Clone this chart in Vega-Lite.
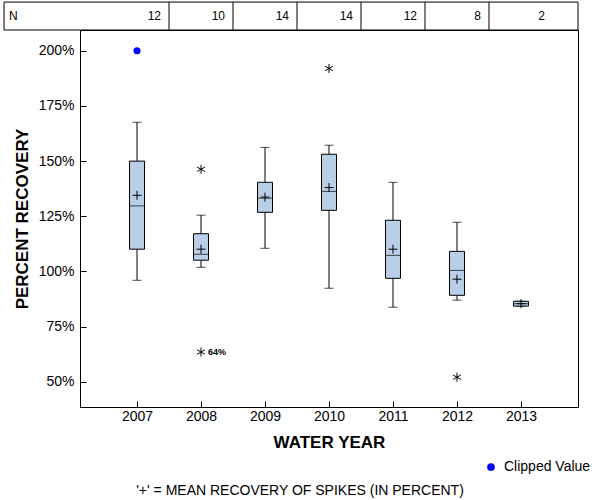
{
  "$schema": "https://vega.github.io/schema/vega-lite/v6.json",
  "width": 498,
  "height": 377,
  "autosize": {"type": "none"},
  "padding": {"left": 80, "top": 30, "right": 22, "bottom": 93},
  "background": "white",
  "config": {
    "font": "Liberation Sans",
    "view": {"stroke": "black", "strokeWidth": 1},
    "axis": {"grid": false, "domainColor": "black", "tickColor": "black", "labelColor": "black", "titleColor": "black", "labelFontSize": 14, "titleFontSize": 17, "titleFontWeight": "bold"}
  },
  "title": {"text": "'+' = MEAN RECOVERY OF SPIKES (IN PERCENT)", "orient": "bottom", "anchor": "middle", "fontSize": 14, "fontWeight": "normal", "color": "black", "dx": -29, "offset": 10},
  "datasets": {
    "stats": [
      {"year": 2007, "n": 12, "lo": 96.0, "q1": 110.1, "med": 129.7, "q3": 150.0, "hi": 167.6, "mean": 134.5},
      {"year": 2008, "n": 10, "lo": 101.9, "q1": 105.1, "med": 107.8, "q3": 117.1, "hi": 125.5, "mean": 110.1},
      {"year": 2009, "n": 14, "lo": 110.5, "q1": 126.8, "med": 133.2, "q3": 140.4, "hi": 156.2, "mean": 133.7},
      {"year": 2010, "n": 14, "lo": 92.4, "q1": 127.7, "med": 136.3, "q3": 153.1, "hi": 157.2, "mean": 138.0},
      {"year": 2011, "n": 12, "lo": 83.8, "q1": 96.9, "med": 107.3, "q3": 123.2, "hi": 140.4, "mean": 110.1},
      {"year": 2012, "n": 8, "lo": 87.0, "q1": 89.2, "med": 100.5, "q3": 109.1, "hi": 122.3, "mean": 96.5},
      {"year": 2013, "n": 2, "lo": 84.3, "q1": 84.3, "med": 85.4, "q3": 86.5, "hi": 86.5, "mean": 85.4}
    ],
    "outliers": [
      {"year": 2008, "value": 146.3, "label": ""},
      {"year": 2008, "value": 63.5, "label": "64%"},
      {"year": 2010, "value": 192.0, "label": ""},
      {"year": 2012, "value": 52.1, "label": ""}
    ],
    "clipped": [
      {"year": 2007, "value": 200, "type": "Clipped Value"}
    ],
    "nlabel": [{"label": "N"}]
  },
  "layer": [
    {
      "mark": {"type": "rule", "strokeDash": [5, 3], "color": "#808080", "strokeWidth": 1},
      "encoding": {
        "y": {"datum": 100, "type": "quantitative", "scale": {"domain": [38.6, 209.4], "nice": false, "zero": false, "padding": 0},
          "axis": {"values": [50, 75, 100, 125, 150, 175, 200], "labelExpr": "datum.value + '%'", "title": "PERCENT RECOVERY", "tickSize": -6, "labelPadding": 12, "titlePadding": 7}}
      }
    },
    {
      "data": {"name": "stats"},
      "mark": {"type": "rule", "color": "black", "strokeWidth": 1},
      "encoding": {
        "x": {"field": "year", "type": "quantitative", "scale": {"domain": [2006.109, 2013.891], "nice": false, "zero": false, "padding": 0},
          "axis": {"values": [2007, 2008, 2009, 2010, 2011, 2012, 2013], "format": "d", "title": "WATER YEAR", "tickSize": -6, "labelPadding": 8, "titlePadding": 11}},
        "y": {"field": "lo", "type": "quantitative"},
        "y2": {"field": "q1"}
      }
    },
    {
      "data": {"name": "stats"},
      "mark": {"type": "rule", "color": "black", "strokeWidth": 1},
      "encoding": {
        "x": {"field": "year", "type": "quantitative"},
        "y": {"field": "q3", "type": "quantitative"},
        "y2": {"field": "hi"}
      }
    },
    {
      "data": {"name": "stats"},
      "mark": {"type": "tick", "orient": "horizontal", "color": "black", "size": 9, "thickness": 1},
      "encoding": {
        "x": {"field": "year", "type": "quantitative"},
        "y": {"field": "lo", "type": "quantitative"}
      }
    },
    {
      "data": {"name": "stats"},
      "mark": {"type": "tick", "orient": "horizontal", "color": "black", "size": 9, "thickness": 1},
      "encoding": {
        "x": {"field": "year", "type": "quantitative"},
        "y": {"field": "hi", "type": "quantitative"}
      }
    },
    {
      "data": {"name": "stats"},
      "mark": {"type": "bar", "fill": "#B9CFE7", "stroke": "black", "strokeWidth": 1, "size": 15},
      "encoding": {
        "x": {"field": "year", "type": "quantitative"},
        "y": {"field": "q1", "type": "quantitative"},
        "y2": {"field": "q3"}
      }
    },
    {
      "data": {"name": "stats"},
      "mark": {"type": "tick", "orient": "horizontal", "color": "black", "size": 15, "thickness": 1},
      "encoding": {
        "x": {"field": "year", "type": "quantitative"},
        "y": {"field": "med", "type": "quantitative"}
      }
    },
    {
      "data": {"name": "stats"},
      "mark": {"type": "point", "shape": "M-1,0H1M0,-1V1", "size": 81, "stroke": "black", "strokeWidth": 1, "filled": false, "opacity": 1},
      "encoding": {
        "x": {"field": "year", "type": "quantitative"},
        "y": {"field": "mean", "type": "quantitative"}
      }
    },
    {
      "data": {"name": "outliers"},
      "mark": {"type": "point", "shape": "M0,-1V1M-0.87,-0.5L0.87,0.5M-0.87,0.5L0.87,-0.5", "size": 81, "stroke": "black", "strokeWidth": 1, "filled": false, "opacity": 1},
      "encoding": {
        "x": {"field": "year", "type": "quantitative"},
        "y": {"field": "value", "type": "quantitative"}
      }
    },
    {
      "data": {"name": "outliers"},
      "mark": {"type": "text", "align": "left", "baseline": "middle", "dx": 7, "fontSize": 9, "fontWeight": "bold", "color": "black"},
      "encoding": {
        "x": {"field": "year", "type": "quantitative"},
        "y": {"field": "value", "type": "quantitative"},
        "text": {"field": "label"}
      }
    },
    {
      "data": {"name": "clipped"},
      "mark": {"type": "point", "filled": true, "size": 50, "opacity": 1},
      "encoding": {
        "x": {"field": "year", "type": "quantitative"},
        "y": {"field": "value", "type": "quantitative"},
        "color": {"field": "type", "type": "nominal", "scale": {"range": ["#0000FF"]},
          "legend": {"orient": "none", "legendX": 404, "legendY": 430, "title": null, "labelFontSize": 14, "labelColor": "black", "labelOffset": 6, "symbolType": "circle", "symbolSize": 60, "padding": 0}}
      }
    },
    {
      "data": {"name": "nlabel"},
      "mark": {"type": "rect", "fill": null, "fillOpacity": 0, "stroke": "black", "strokeWidth": 1},
      "encoding": {
        "x": {"datum": 2004.922, "type": "quantitative"},
        "x2": {"datum": 2013.891},
        "y": {"datum": 209.4, "type": "quantitative"},
        "y2": {"datum": 222.06}
      }
    },
    {
      "data": {"name": "stats"},
      "transform": [{"filter": "datum.year < 2013"}],
      "mark": {"type": "rule", "color": "black", "strokeWidth": 1, "xOffset": 32},
      "encoding": {
        "x": {"field": "year", "type": "quantitative"},
        "y": {"datum": 209.4, "type": "quantitative"},
        "y2": {"datum": 222.06}
      }
    },
    {
      "data": {"name": "stats"},
      "mark": {"type": "text", "align": "right", "baseline": "middle", "xOffset": 24, "fontSize": 12, "color": "black"},
      "encoding": {
        "x": {"field": "year", "type": "quantitative"},
        "y": {"datum": 215.7, "type": "quantitative"},
        "text": {"field": "n"}
      }
    },
    {
      "data": {"name": "nlabel"},
      "mark": {"type": "text", "align": "left", "baseline": "middle", "fontSize": 12, "color": "black"},
      "encoding": {
        "x": {"datum": 2005.0, "type": "quantitative"},
        "y": {"datum": 215.7, "type": "quantitative"},
        "text": {"field": "label"}
      }
    }
  ]
}
